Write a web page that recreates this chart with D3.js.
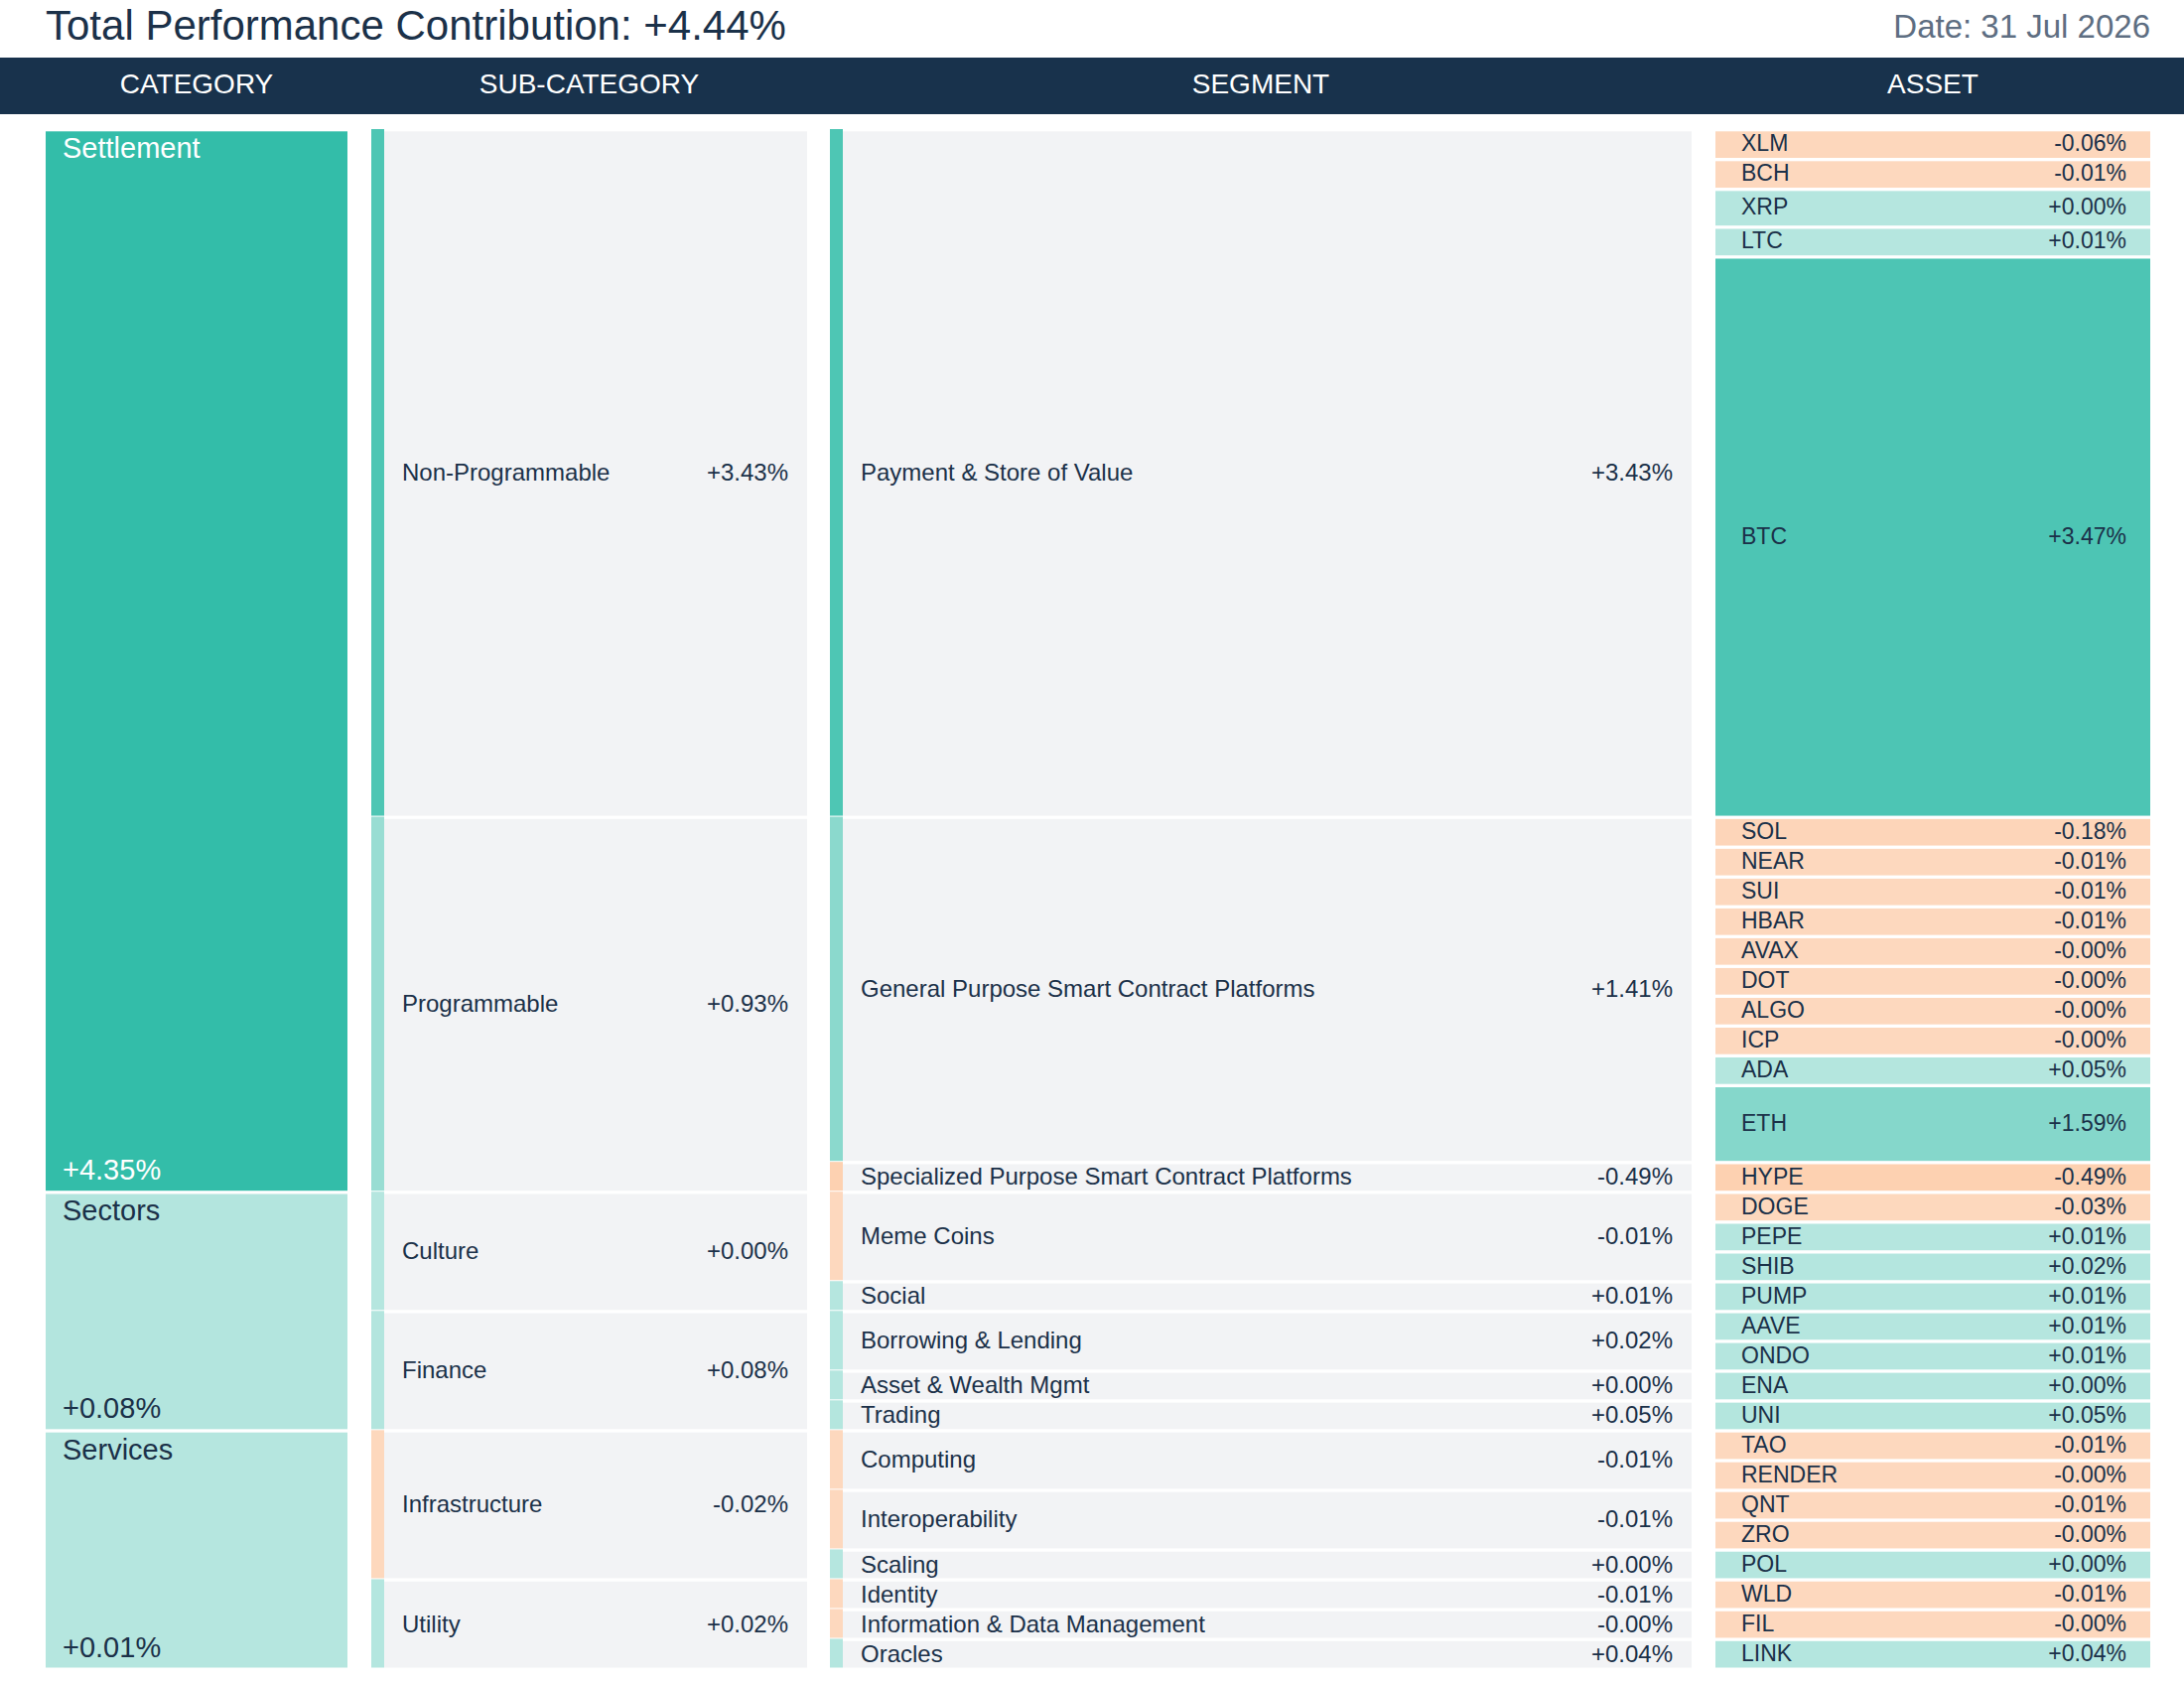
<!DOCTYPE html>
<html>
<head>
<meta charset="utf-8">
<script src="https://cdn.jsdelivr.net/npm/d3@7"></script>
<style>
  html, body { margin: 0; padding: 0; background: #ffffff; }
  svg { display: block; }
  text { font-family: "Liberation Sans", Arial, Helvetica, sans-serif; }
</style>
</head>
<body>
<svg id="chart" width="2200" height="1695"></svg>
<script>
// ---------------- DATA ----------------
const totalContribution = 4.44;
const reportDate = "31 Jul 2026";
const columnHeaders = ["CATEGORY", "SUB-CATEGORY", "SEGMENT", "ASSET"];

const categories = ["Settlement", "Sectors", "Services"];
const categoryValues = [4.35, 0.08, 0.01];

const subCategories = ["Non-Programmable", "Programmable", "Culture", "Finance", "Infrastructure", "Utility"];
const subCategoryParent = [0, 0, 1, 1, 2, 2];
const subCategoryValues = [3.43, 0.93, 0.002, 0.08, -0.02, 0.02];

const segments = [
  "Payment & Store of Value",
  "General Purpose Smart Contract Platforms",
  "Specialized Purpose Smart Contract Platforms",
  "Meme Coins",
  "Social",
  "Borrowing & Lending",
  "Asset & Wealth Mgmt",
  "Trading",
  "Computing",
  "Interoperability",
  "Scaling",
  "Identity",
  "Information & Data Management",
  "Oracles"
];
const segmentParent = [0, 1, 1, 2, 2, 3, 3, 3, 4, 4, 4, 5, 5, 5];
const segmentValues = [3.43, 1.41, -0.49, -0.01, 0.01, 0.02, 0.002, 0.05, -0.01, -0.01, 0.002, -0.01, -0.002, 0.04];

const assets = ["XLM", "BCH", "XRP", "LTC", "BTC",
  "SOL", "NEAR", "SUI", "HBAR", "AVAX", "DOT", "ALGO", "ICP", "ADA", "ETH",
  "HYPE", "DOGE", "PEPE", "SHIB", "PUMP", "AAVE", "ONDO", "ENA", "UNI",
  "TAO", "RENDER", "QNT", "ZRO", "POL", "WLD", "FIL", "LINK"];
const assetSegment = [0, 0, 0, 0, 0,
  1, 1, 1, 1, 1, 1, 1, 1, 1, 1,
  2, 3, 3, 3, 4, 5, 5, 6, 7,
  8, 8, 9, 9, 10, 11, 12, 13];
const assetValues = [-0.06, -0.01, 0.002, 0.01, 3.47,
  -0.18, -0.01, -0.01, -0.01, -0.002, -0.002, -0.002, -0.002, 0.05, 1.59,
  -0.49, -0.03, 0.01, 0.02, 0.01, 0.01, 0.01, 0.002, 0.05,
  -0.01, -0.002, -0.01, -0.002, 0.002, -0.01, -0.002, 0.04];
// relative row size (weight) of each asset, read from the row heights
const assetSizes = [1, 1, 1.27, 1, 18.8,
  1, 1, 1, 1, 1, 1, 1, 1, 1, 2.58,
  1, 1, 1, 1, 1, 1, 1, 1, 1,
  1, 1, 1, 1, 1, 1, 1, 1];

// ---------------- STYLE ----------------
const W = 2200, H = 1695;
const navy = "#1b3149";
const panelGray = "#f2f3f5";

const loc = d3.formatLocale({ decimal: ".", thousands: ",", grouping: [3], currency: ["$", ""], minus: "-" });
const fmt = loc.format("+.2f");
const pct = v => fmt(v) + "%";

const posColor = d3.scaleLinear().domain([0, 4.35]).range(["#b5e6df", "#33bda9"]).clamp(true);
const negColor = d3.scaleLinear().domain([0, -4.35]).range(["#fdd8be", "#fb9a4c"]).clamp(true);
const colorOf = v => v < 0 ? negColor(v) : posColor(v);
const textColorOf = v => v > 3.9 ? "#ffffff" : navy;

const svg = d3.select("#chart");

// columns (x positions)
const col = {
  cat:   { x0: 46,  x1: 350 },
  sub:   { x0: 374, xa: 387, x1: 813 },
  seg:   { x0: 836, xa: 849, x1: 1704 },
  asset: { x0: 1728, x1: 2166 }
};

// ---------------- TITLE ----------------
svg.append("text")
  .attr("x", 46).attr("y", 40)
  .attr("font-size", 42).attr("fill", navy)
  .text("Total Performance Contribution: " + pct(totalContribution));

svg.append("text")
  .attr("x", 2166).attr("y", 38)
  .attr("text-anchor", "end")
  .attr("font-size", 33).attr("fill", "#5e6e82")
  .text("Date: " + reportDate);

// header bar
svg.append("rect").attr("x", 0).attr("y", 58).attr("width", W).attr("height", 57).attr("fill", "#18324c");
const headerCenters = [
  (col.cat.x0 + col.cat.x1) / 2,
  (col.sub.x0 + col.sub.x1) / 2,
  (col.seg.x0 + col.seg.x1) / 2,
  (col.asset.x0 + col.asset.x1) / 2
];
svg.selectAll("text.hdr").data(columnHeaders).join("text")
  .attr("class", "hdr")
  .attr("x", (d, i) => headerCenters[i])
  .attr("y", 84)
  .attr("dy", "0.35em")
  .attr("text-anchor", "middle")
  .attr("font-size", 28)
  .attr("fill", "#ffffff")
  .text(d => d);

// ---------------- LAYOUT ----------------
const totalUnits = d3.sum(assetSizes);
const y = d3.scaleLinear().domain([0, totalUnits]).range([130, 1680.5]);
const cum = [0, ...d3.cumsum(assetSizes)];

const assetNodes = assets.map((name, i) => ({
  name, value: assetValues[i], y0: y(cum[i]), y1: y(cum[i + 1]), parent: assetSegment[i]
}));
function groupExtent(children, idx) {
  const kids = children.filter(c => c.parent === idx);
  return { y0: d3.min(kids, c => c.y0), y1: d3.max(kids, c => c.y1) };
}
const segmentNodes = segments.map((name, i) => Object.assign(
  { name, value: segmentValues[i], parent: segmentParent[i] }, groupExtent(assetNodes, i)));
const subNodes = subCategories.map((name, i) => Object.assign(
  { name, value: subCategoryValues[i], parent: subCategoryParent[i] }, groupExtent(segmentNodes, i)));
const catNodes = categories.map((name, i) => Object.assign(
  { name, value: categoryValues[i] }, groupExtent(subNodes, i)));

const topInset = 2.3, botInset = 1;

// ---------------- CATEGORY ----------------
const gCat = svg.append("g");
gCat.selectAll("rect").data(catNodes).join("rect")
  .attr("x", col.cat.x0).attr("width", col.cat.x1 - col.cat.x0)
  .attr("y", d => d.y0 + topInset)
  .attr("height", d => d.y1 - d.y0 - topInset - botInset)
  .attr("fill", d => colorOf(d.value));
gCat.selectAll("text.name").data(catNodes).join("text")
  .attr("class", "name")
  .attr("x", col.cat.x0 + 17)
  .attr("y", d => d.y0 + topInset + 27)
  .attr("font-size", 29)
  .attr("fill", d => textColorOf(d.value))
  .text(d => d.name);
gCat.selectAll("text.val").data(catNodes).join("text")
  .attr("class", "val")
  .attr("x", col.cat.x0 + 17)
  .attr("y", d => d.y1 - botInset - 11)
  .attr("font-size", 29)
  .attr("fill", d => textColorOf(d.value))
  .text(d => pct(d.value));

// ---------------- SUB-CATEGORY & SEGMENT ----------------
function drawPanelLevel(nodes, c, fontSize, labelX, valueX) {
  const g = svg.append("g");
  g.selectAll("rect.accent").data(nodes).join("rect")
    .attr("class", "accent")
    .attr("x", c.x0).attr("width", c.xa - c.x0)
    .attr("y", d => d.y0)
    .attr("height", d => d.y1 - d.y0 - botInset)
    .attr("fill", d => colorOf(d.value));
  g.selectAll("rect.panel").data(nodes).join("rect")
    .attr("class", "panel")
    .attr("x", c.xa).attr("width", c.x1 - c.xa)
    .attr("y", d => d.y0 + topInset)
    .attr("height", d => d.y1 - d.y0 - topInset - botInset)
    .attr("fill", panelGray);
  g.selectAll("text.name").data(nodes).join("text")
    .attr("class", "name")
    .attr("x", labelX)
    .attr("y", d => (d.y0 + topInset + d.y1 - botInset) / 2)
    .attr("dy", "0.31em")
    .attr("font-size", fontSize)
    .attr("fill", navy)
    .text(d => d.name);
  g.selectAll("text.val").data(nodes).join("text")
    .attr("class", "val")
    .attr("x", valueX)
    .attr("y", d => (d.y0 + topInset + d.y1 - botInset) / 2)
    .attr("dy", "0.31em")
    .attr("text-anchor", "end")
    .attr("font-size", fontSize)
    .attr("fill", navy)
    .text(d => pct(d.value));
}
drawPanelLevel(subNodes, col.sub, 24, 405, 794);
drawPanelLevel(segmentNodes, col.seg, 24, 867, 1685);

// ---------------- ASSET ----------------
const gA = svg.append("g");
gA.selectAll("rect").data(assetNodes).join("rect")
  .attr("x", col.asset.x0).attr("width", col.asset.x1 - col.asset.x0)
  .attr("y", d => d.y0 + topInset)
  .attr("height", d => d.y1 - d.y0 - topInset - botInset)
  .attr("fill", d => colorOf(d.value));
gA.selectAll("text.name").data(assetNodes).join("text")
  .attr("class", "name")
  .attr("x", 1754)
  .attr("y", d => (d.y0 + topInset + d.y1 - botInset) / 2)
  .attr("dy", "0.29em")
  .attr("font-size", 23)
  .attr("fill", d => textColorOf(d.value))
  .text(d => d.name);
gA.selectAll("text.val").data(assetNodes).join("text")
  .attr("class", "val")
  .attr("x", 2142)
  .attr("y", d => (d.y0 + topInset + d.y1 - botInset) / 2)
  .attr("dy", "0.29em")
  .attr("text-anchor", "end")
  .attr("font-size", 23)
  .attr("fill", d => textColorOf(d.value))
  .text(d => pct(d.value));
</script>
</body>
</html>
